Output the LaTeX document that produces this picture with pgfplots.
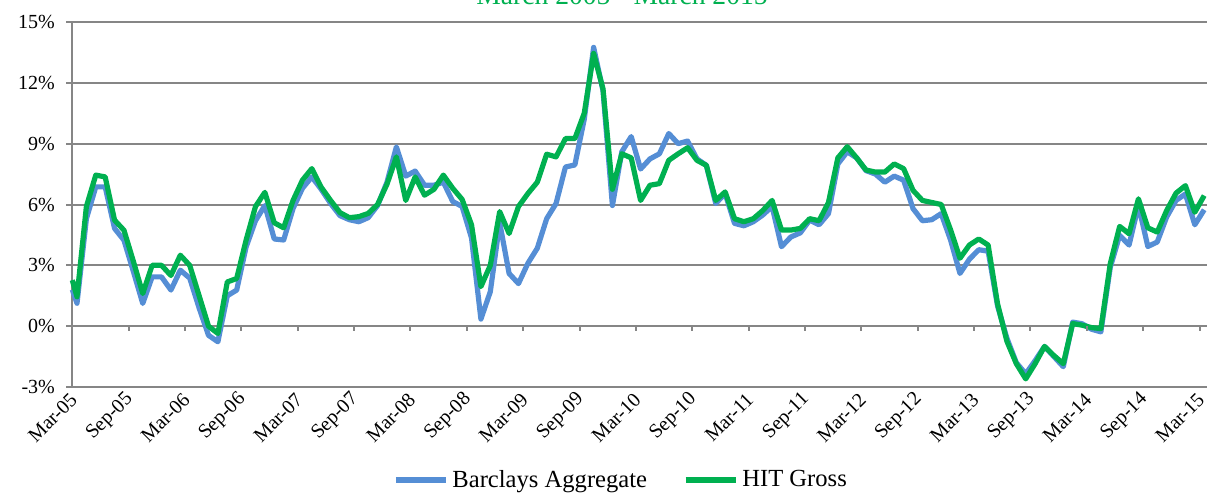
\documentclass[border=0pt]{standalone}
\usepackage{pgfplots}
\pgfplotsset{compat=1.18}
\usepackage{pgfplotstable}
\usepackage{fontspec}
\setmainfont{Liberation Serif}
\definecolor{barblue}{RGB}{85,142,213}
\definecolor{hitgreen}{RGB}{0,176,80}
\definecolor{gridgray}{RGB}{134,134,134}

\pgfplotstableread{
x b g
0 1.8 2.27
0.5 1.13 1.45
1.5 5.3 5.9
2.5 6.87 7.45
3.5 6.87 7.36
4.5 4.82 5.23
5.5 4.24 4.73
6.5 2.7 3.2
7.5 1.12 1.61
8.5 2.43 3.0
9.5 2.43 3.0
10.5 1.78 2.5
11.5 2.76 3.5
12.5 2.37 3.0
13.5 0.9 1.5
14.5 -0.45 0.0
15.5 -0.77 -0.36
16.5 1.5 2.18
17.5 1.78 2.35
18.5 3.9 4.24
19.5 5.2 5.9
20.5 5.95 6.6
21.5 4.3 5.1
22.5 4.25 4.85
23.5 5.8 6.2
24.5 6.8 7.2
25.5 7.36 7.77
26.5 6.75 6.85
27.5 6.05 6.2
28.5 5.45 5.6
29.5 5.25 5.35
30.5 5.15 5.4
31.5 5.35 5.56
32.5 5.95 6.0
33.5 7.1 7.0
34.5 8.84 8.35
35.5 7.4 6.2
36.5 7.65 7.36
37.5 6.95 6.46
38.5 6.95 6.75
39.5 7.1 7.45
40.5 6.15 6.8
41.5 5.9 6.25
42.5 4.35 5.0
43.5 0.35 1.95
44.5 1.7 3.0
45.5 5.1 5.65
46.5 2.6 4.57
47.5 2.1 5.9
48.5 3.1 6.54
49.5 3.84 7.1
50.5 5.3 8.48
51.5 6.05 8.35
52.5 7.85 9.25
53.5 7.95 9.25
54.5 10.2 10.5
55.5 13.75 13.45
56.5 11.6 11.7
57.5 5.95 6.75
58.5 8.6 8.5
59.5 9.35 8.3
60.5 7.75 6.2
61.5 8.25 6.95
62.5 8.5 7.03
63.5 9.5 8.18
64.5 9.0 8.5
65.5 9.13 8.8
66.5 8.25 8.18
67.5 7.93 7.93
68.5 6.05 6.2
69.5 6.54 6.62
70.5 5.07 5.3
71.5 4.95 5.15
72.5 5.15 5.3
73.5 5.48 5.7
74.5 5.9 6.2
75.5 3.92 4.74
76.5 4.4 4.74
77.5 4.6 4.82
78.5 5.23 5.3
79.5 5.0 5.2
80.5 5.55 6.1
81.5 8.0 8.3
82.5 8.6 8.85
83.5 8.3 8.3
84.5 7.67 7.7
85.5 7.5 7.6
86.5 7.1 7.6
87.5 7.4 8.0
88.5 7.2 7.77
89.5 5.8 6.7
90.5 5.2 6.2
91.5 5.25 6.1
92.5 5.55 6.0
93.5 4.25 4.75
94.5 2.6 3.35
95.5 3.3 4.0
96.5 3.77 4.3
97.5 3.7 4.0
98.5 1.0 1.1
99.5 -0.6 -0.75
100.5 -1.8 -1.85
101.5 -2.35 -2.6
102.5 -1.7 -1.85
103.5 -1.0 -1.0
104.5 -1.5 -1.45
105.5 -2.0 -1.85
106.5 0.2 0.13
107.5 0.12 0.05
108.5 -0.15 -0.07
109.5 -0.28 -0.12
110.5 2.9 3.08
111.5 4.48 4.92
112.5 4.0 4.56
113.5 5.95 6.28
114.5 3.93 4.85
115.5 4.15 4.64
116.5 5.38 5.7
117.5 6.2 6.56
118.5 6.52 6.93
119.5 5.0 5.62
120.5 5.74 6.44
}\datatable

\begin{document}
\begin{tikzpicture}
\begin{axis}[
  scale only axis,
  width=567.35pt, height=182.5pt,
  xmin=0, xmax=120.8, ymin=-3, ymax=15,
  axis lines*=left,
  axis line style={gridgray, line width=1pt, -},
  xtick={0,6,...,120},
  xticklabels={Mar-05,Sep-05,Mar-06,Sep-06,Mar-07,Sep-07,Mar-08,Sep-08,Mar-09,Sep-09,Mar-10,Sep-10,Mar-11,Sep-11,Mar-12,Sep-12,Mar-13,Sep-13,Mar-14,Sep-14,Mar-15},
  xtick style={draw=none},
  ytick={-3,0,3,6,9,12,15},
  yticklabels={-3\%,0\%,3\%,6\%,9\%,12\%,15\%},
  ytick style={gridgray, line width=1pt},
  tick align=outside,
  major tick length=3pt,
  ymajorgrids,
  grid style={gridgray, line width=1pt},
  tick label style={font=\fontsize{10}{12}\selectfont},
  xticklabel style={xshift=1.5pt, yshift=-1pt, rotate=45, anchor=east, inner sep=1pt},
  yticklabel style={anchor=east, inner sep=1pt, xshift=-4.5pt},
  legend style={at={(0.4845,-0.2548)}, anchor=center, draw=none, fill=none,
    font=\fontsize{12.3}{14}\selectfont, legend columns=2,
    /tikz/every even column/.append style={column sep=16pt}},
  legend image code/.code={\draw[#1] (0pt,0pt) -- (25pt,0pt);},
  clip=false,
]
\addplot[barblue, line width=2.6pt, line join=round] table[x=x, y=b] {\datatable};
\addlegendentry{Barclays Aggregate}
\addplot[hitgreen, line width=2.6pt, line join=round] table[x=x, y=g] {\datatable};
\addlegendentry{HIT Gross}
\pgfplotsinvokeforeach{0,6,...,120}{
  \draw[gridgray, line width=1pt] (axis cs:#1,0) -- ++(0pt,-2.5pt);
}
\node[anchor=base, text=hitgreen, font=\fontsize{13.8}{16}\selectfont] at ([yshift=9pt]rel axis cs:0.4845,1) {March 2005 - March 2015};
\coordinate (BL) at (rel axis cs:0,0);
\coordinate (TR) at (rel axis cs:1,1);
\end{axis}
\pgfresetboundingbox
\path[use as bounding box] ([xshift=-36.15pt,yshift=-53pt]BL) rectangle ([yshift=11pt]TR);
\end{tikzpicture}
\end{document}
